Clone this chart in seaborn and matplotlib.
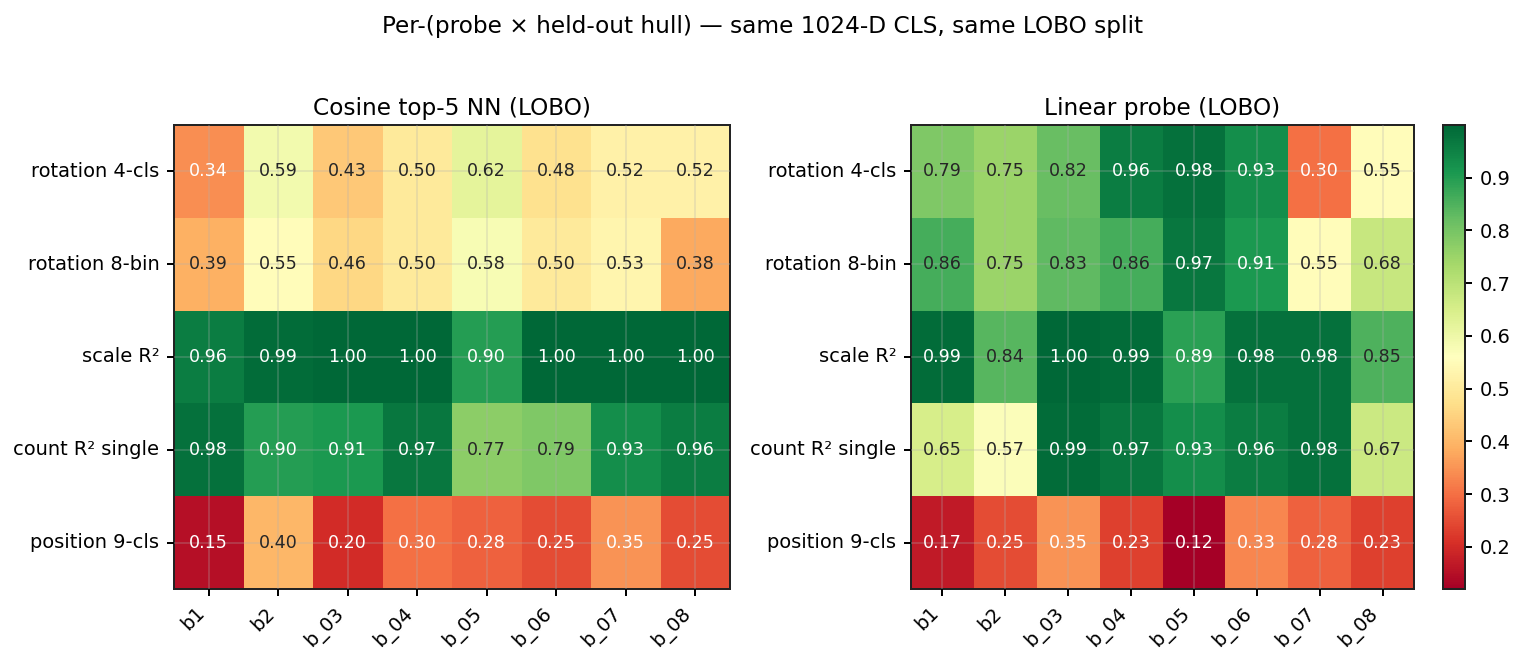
import numpy as np
import pandas as pd
import matplotlib
matplotlib.use('Agg')
import matplotlib.pyplot as plt
import seaborn as sns

probes = ['rotation 4-cls', 'rotation 8-bin', 'scale R²', 'count R² single', 'position 9-cls']
hulls = ['b1', 'b2', 'b_03', 'b_04', 'b_05', 'b_06', 'b_07', 'b_08']

cosine_rot4 = [0.34, 0.59, 0.43, 0.50, 0.62, 0.48, 0.52, 0.52]
cosine_rot8 = [0.39, 0.55, 0.46, 0.50, 0.58, 0.50, 0.53, 0.38]
cosine_scale = [0.96, 0.99, 1.00, 1.00, 0.90, 1.00, 1.00, 1.00]
cosine_count = [0.98, 0.90, 0.91, 0.97, 0.77, 0.79, 0.93, 0.96]
cosine_pos = [0.15, 0.40, 0.20, 0.30, 0.28, 0.25, 0.35, 0.25]

linear_rot4 = [0.79, 0.75, 0.82, 0.96, 0.98, 0.93, 0.30, 0.55]
linear_rot8 = [0.86, 0.75, 0.83, 0.86, 0.97, 0.91, 0.55, 0.68]
linear_scale = [0.99, 0.84, 1.00, 0.99, 0.89, 0.98, 0.98, 0.85]
linear_count = [0.65, 0.57, 0.99, 0.97, 0.93, 0.96, 0.98, 0.67]
linear_pos = [0.17, 0.25, 0.35, 0.23, 0.12, 0.33, 0.28, 0.23]

df_cos = pd.DataFrame([cosine_rot4, cosine_rot8, cosine_scale, cosine_count, cosine_pos],
                      index=probes, columns=hulls)
df_lin = pd.DataFrame([linear_rot4, linear_rot8, linear_scale, linear_count, linear_pos],
                      index=probes, columns=hulls)

vmin = min(df_cos.values.min(), df_lin.values.min())
vmax = 1.0
fs = 9.3  # base font size

fig = plt.figure(figsize=(10.16, 4.4267), dpi=150)
ax_l = fig.add_axes([0.1142, 0.113, 0.3648, 0.6988])
ax_r = fig.add_axes([0.5978, 0.113, 0.3300, 0.6988])
cax = fig.add_axes([0.9468, 0.113, 0.0144, 0.6988])

panels = [(ax_l, df_cos, 'Cosine top-5 NN (LOBO)', False),
          (ax_r, df_lin, 'Linear probe (LOBO)', True)]

for ax, df, title, show_cbar in panels:
    sns.heatmap(df, ax=ax, cmap='RdYlGn', vmin=vmin, vmax=vmax, annot=True, fmt='.2f',
                annot_kws={'fontsize': 8.4}, cbar=show_cbar, cbar_ax=cax if show_cbar else None)
    # white text on the strong ends of the scale
    for txt, v in zip(ax.texts, df.values.ravel()):
        txt.set_color('white' if (v < 0.37 or v > 0.875) else '#262626')
    ax.set_title(title, fontsize=11.2, pad=4.6)
    for spine in ax.spines.values():
        spine.set_visible(True)
        spine.set_color('#222222')
        spine.set_linewidth(0.95)
    ax.tick_params(axis='both', length=3.5, width=0.95, labelsize=fs)
    ax.set_xticklabels(hulls, rotation=45, ha='right')
    ax.set_yticklabels(probes, rotation=0)
    ax.grid(True, color='#b0b0b0', alpha=0.3, linewidth=0.8)
    ax.set_axisbelow(False)
    ax.set_xlabel('')
    ax.set_ylabel('')

cax.tick_params(labelsize=fs, length=3.5, width=0.95)
cax.set_yticks([0.2, 0.3, 0.4, 0.5, 0.6, 0.7, 0.8, 0.9])
for spine in cax.spines.values():
    spine.set_visible(True)
    spine.set_color('#222222')
    spine.set_linewidth(0.95)

fig.suptitle('Per-(probe × held-out hull) — same 1024-D CLS, same LOBO split', fontsize=11.2, y=0.978)

fig.savefig('out.png', dpi=150)
